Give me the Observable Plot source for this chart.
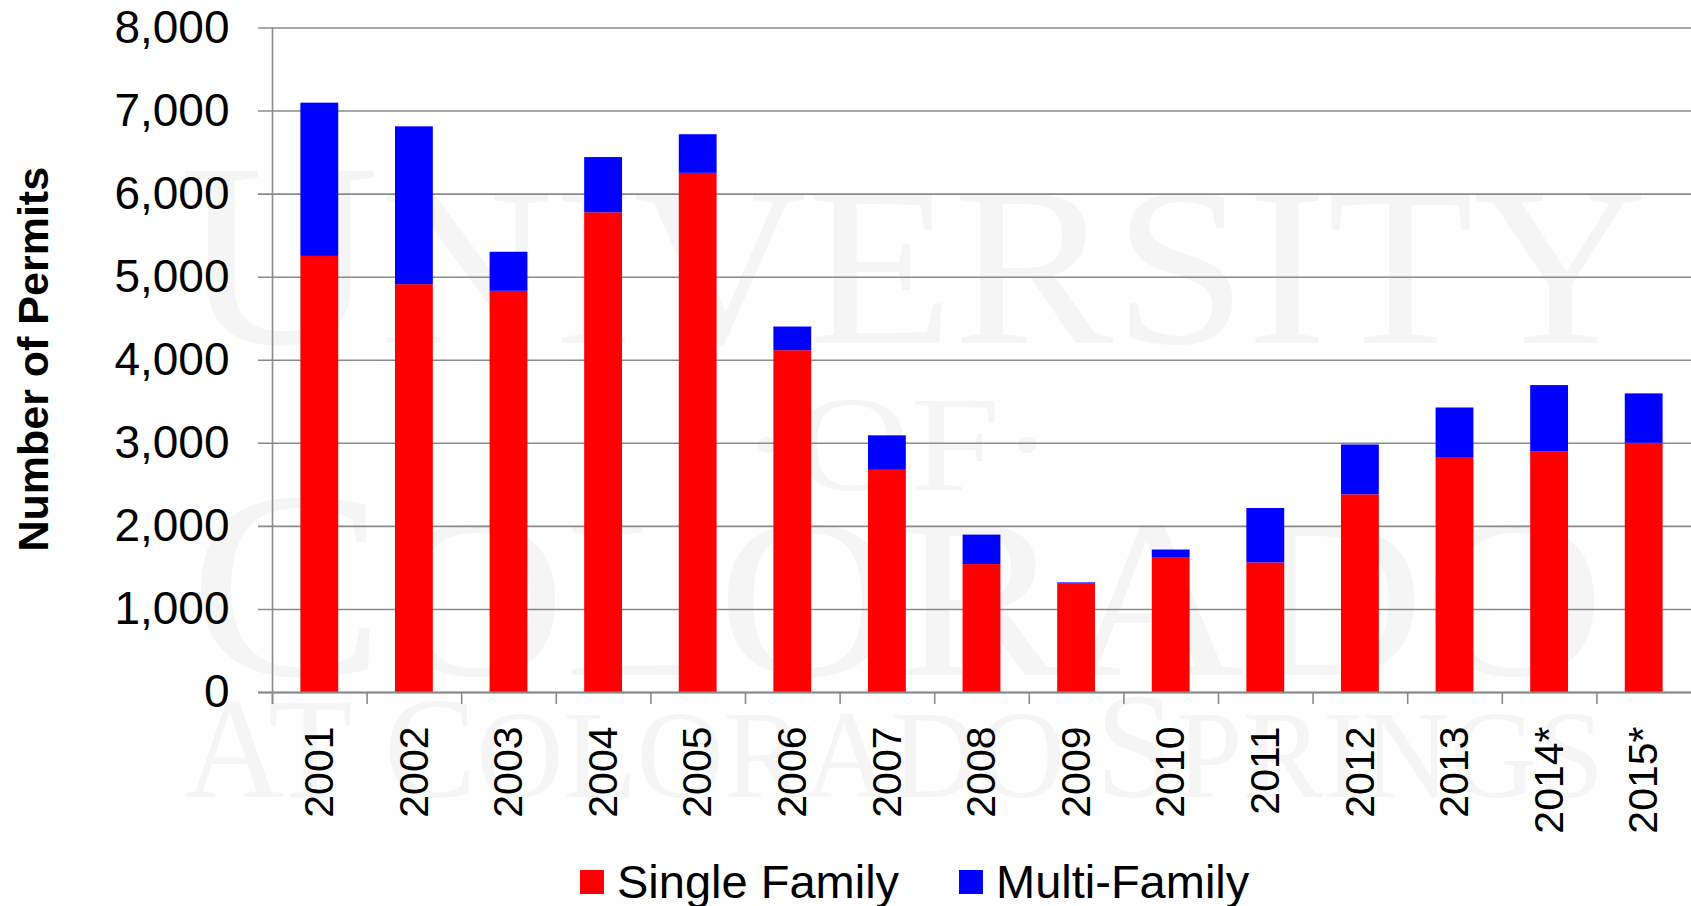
<!DOCTYPE html>
<html>
<head>
<meta charset="utf-8">
<script src="https://cdn.jsdelivr.net/npm/d3@7"></script>
<script src="https://cdn.jsdelivr.net/npm/@observablehq/plot@0.6"></script>
<style>
  body { margin: 0; background: #fff; font-family: "Liberation Sans", Arial, sans-serif; }
  #wrap { position: relative; width: 1691px; }
  #wm { position: absolute; left: 0; top: 0; z-index: 0; }
  #chart { position: relative; z-index: 1; }
  #legend { position: relative; width: 1691px; height: 66px; z-index: 1; }
  .item { position: absolute; top: 22px; display: flex; align-items: center; font-size: 47px; line-height: 40px; color: #000; }
  .sw { width: 24px; height: 24px; margin-right: 13px; }
</style>
</head>
<body>
<div id="wrap">
  <svg id="wm" width="1691" height="906" font-family="'Liberation Serif', 'DejaVu Serif', serif" fill="#f5f5f5">
    <text x="179" y="343" textLength="1468" lengthAdjust="spacingAndGlyphs"><tspan font-size="263">U</tspan><tspan font-size="227">NIVERSITY</tspan></text>
    <text x="740" y="490" textLength="314" lengthAdjust="spacingAndGlyphs" font-size="135">·OF·</text>
    <text x="189" y="675" textLength="1415" lengthAdjust="spacingAndGlyphs"><tspan font-size="268">C</tspan><tspan font-size="227">OLORADO</tspan></text>
    <text x="184" y="797" textLength="1420" lengthAdjust="spacingAndGlyphs"><tspan font-size="143">AT C</tspan><tspan font-size="125">OLORADO </tspan><tspan font-size="150">S</tspan><tspan font-size="125">PRINGS</tspan></text>
  </svg>
  <div id="chart"></div>
  <div id="legend"></div>
</div>
<script>
const years = ["2001","2002","2003","2004","2005","2006","2007","2008","2009","2010","2011","2012","2013","2014*","2015*"];
const singleFamily = [5250, 4910, 4830, 5775, 6250, 4115, 2675, 1540, 1305, 1625, 1560, 2380, 2820, 2900, 3000];
const multiFamily  = [1845, 1900,  470,  665,  465,  285,  415,  355,   15,   90,  655,  600,  605,  795,  595];
const seriesNames = ["Single Family", "Multi-Family"];
const seriesColors = ["#ff0000", "#0000ff"];
const yTicks = [0, 1000, 2000, 3000, 4000, 5000, 6000, 7000, 8000];
const yLabel = "Number of Permits";

const data = years.flatMap((yr, i) => [
  {year: yr, series: seriesNames[0], value: singleFamily[i]},
  {year: yr, series: seriesNames[1], value: multiFamily[i]}
]);

const W = 1691, H = 840;
const gridColor = "#8a8a8a";
const xScale = {domain: years, paddingInner: 0.6, paddingOuter: 0.3, round: false};
const margins = {marginLeft: 272, marginRight: 0, marginTop: 27.5, marginBottom: 148};

// probe to get the band step
const probe = Plot.plot({width: W, height: H, ...margins, x: xScale, marks: [Plot.barY(data, {x: "year", y: "value"})]});
const step = probe.scale("x").step;

const chart = Plot.plot({
  width: W,
  height: H,
  ...margins,
  style: {background: "transparent", fontFamily: "'Liberation Sans', Arial, sans-serif", color: "#000"},
  x: {...xScale, label: null},
  y: {domain: [0, 8000], label: null},
  color: {domain: seriesNames, range: seriesColors},
  marks: [
    Plot.ruleY(yTicks, {y: d => d, stroke: gridColor, strokeWidth: 1.6, insetLeft: -14}),
    Plot.barY(data, {x: "year", y: "value", fill: "series", order: seriesNames}),
    Plot.ruleY([0], {stroke: gridColor, strokeWidth: 2, insetLeft: -14}),
    Plot.ruleX([years[0]], {x: d => d, dx: -step / 2, stroke: gridColor, strokeWidth: 1.6, insetBottom: -12}),
    Plot.ruleX(years, {x: d => d, dx: -step / 2, y1: 0, y2: 0, stroke: gridColor, strokeWidth: 1.6, insetBottom: -12}),
    Plot.axisY({ticks: yTicks, tickSize: 0, tickPadding: 43, tickFormat: d3.format(","), fontSize: 46, label: null}),
    Plot.axisX({tickSize: 0, tickRotate: -90, tickPadding: 34, fontSize: 41, label: null}),
    Plot.text([yLabel], {frameAnchor: "left", textAnchor: "middle", rotate: -90, dx: -238, dy: -1, fontSize: 43, fontWeight: "bold", fill: "#000", text: d => d})
  ]
});
document.getElementById("chart").appendChild(chart);

const legend = document.getElementById("legend");
const legendLeft = [580, 959];
seriesNames.forEach((name, i) => {
  const it = document.createElement("div");
  it.className = "item";
  it.style.left = legendLeft[i] + "px";
  const sw = document.createElement("div");
  sw.className = "sw";
  sw.style.background = seriesColors[i];
  const tx = document.createElement("span");
  tx.textContent = name;
  it.appendChild(sw);
  it.appendChild(tx);
  legend.appendChild(it);
});
</script>
</body>
</html>
